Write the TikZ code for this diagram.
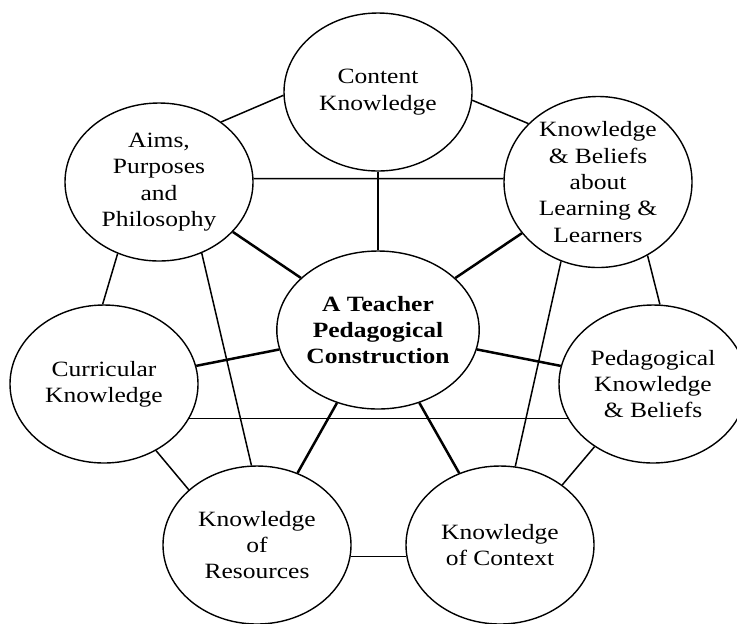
\documentclass[tikz,border=0pt]{standalone}
\usepackage{fontspec}
\setmainfont{Liberation Serif}[FakeStretch=1.17]
\usetikzlibrary{shapes.geometric}

\begin{document}
\begin{tikzpicture}[x=0.5pt, y=-0.5pt,
  bubble/.style={ellipse, draw, line width=0.7pt, fill=white,
    minimum width=94pt, minimum height=79pt, inner sep=0pt, align=center,
    font=\fontsize{10.9}{13.2}\selectfont},
  hub/.style={bubble, font=\fontsize{10.9}{13.2}\selectfont\bfseries},
  link/.style={line width=0.75pt},
  spoke/.style={line width=1.25pt},
]
  \useasboundingbox (0,0) rectangle (737,623);
  % the seven bubbles round the hub
  \node[hub]    (teacher)     at (378,330) {A Teacher\\Pedagogical\\Construction};
  \node[bubble] (content)     at (378,92)  {Content\\Knowledge};
  \node[bubble] (aims)        at (159,182) {Aims,\\Purposes\\and\\Philosophy};
  \node[bubble] (learning)    at (598,182) {Knowledge\\\& Beliefs\\about\\Learning \&\\Learners};
  \node[bubble] (curricular)  at (104,384) {Curricular\\Knowledge};
  \node[bubble] (pedagogical) at (653,384) {Pedagogical\\Knowledge\\\& Beliefs};
  \node[bubble] (resources)   at (257,545) {Knowledge\\of\\Resources};
  \node[bubble] (context)     at (500,545) {Knowledge\\of Context};
  % spokes to the hub
  \draw[spoke] (content.south) -- (teacher.north);
  \foreach \n in {aims,learning,curricular,pedagogical,resources,context}
    \draw[spoke] (\n) -- (teacher);
  % outer links
  \draw[link] (content.182) -- (aims.44);
  \draw[link] (content.-5) -- (learning.140);
  \draw[link] (aims.2) -- (learning.178);
  \draw[link] (aims.-120) -- (curricular.91);
  \draw[link] (aims.-59) -- (resources.94);
  \draw[link] (learning.-56) -- (pedagogical.85);
  \draw[link] (learning.-115) -- (context.79);
  \draw[link] (curricular.-22) -- (pedagogical.202);
  \draw[link] (curricular.-52) -- (resources.141);
  \draw[link] (pedagogical.-133) -- (context.44);
  \draw[link] (resources.-7) -- (context.187);
\end{tikzpicture}
\end{document}
